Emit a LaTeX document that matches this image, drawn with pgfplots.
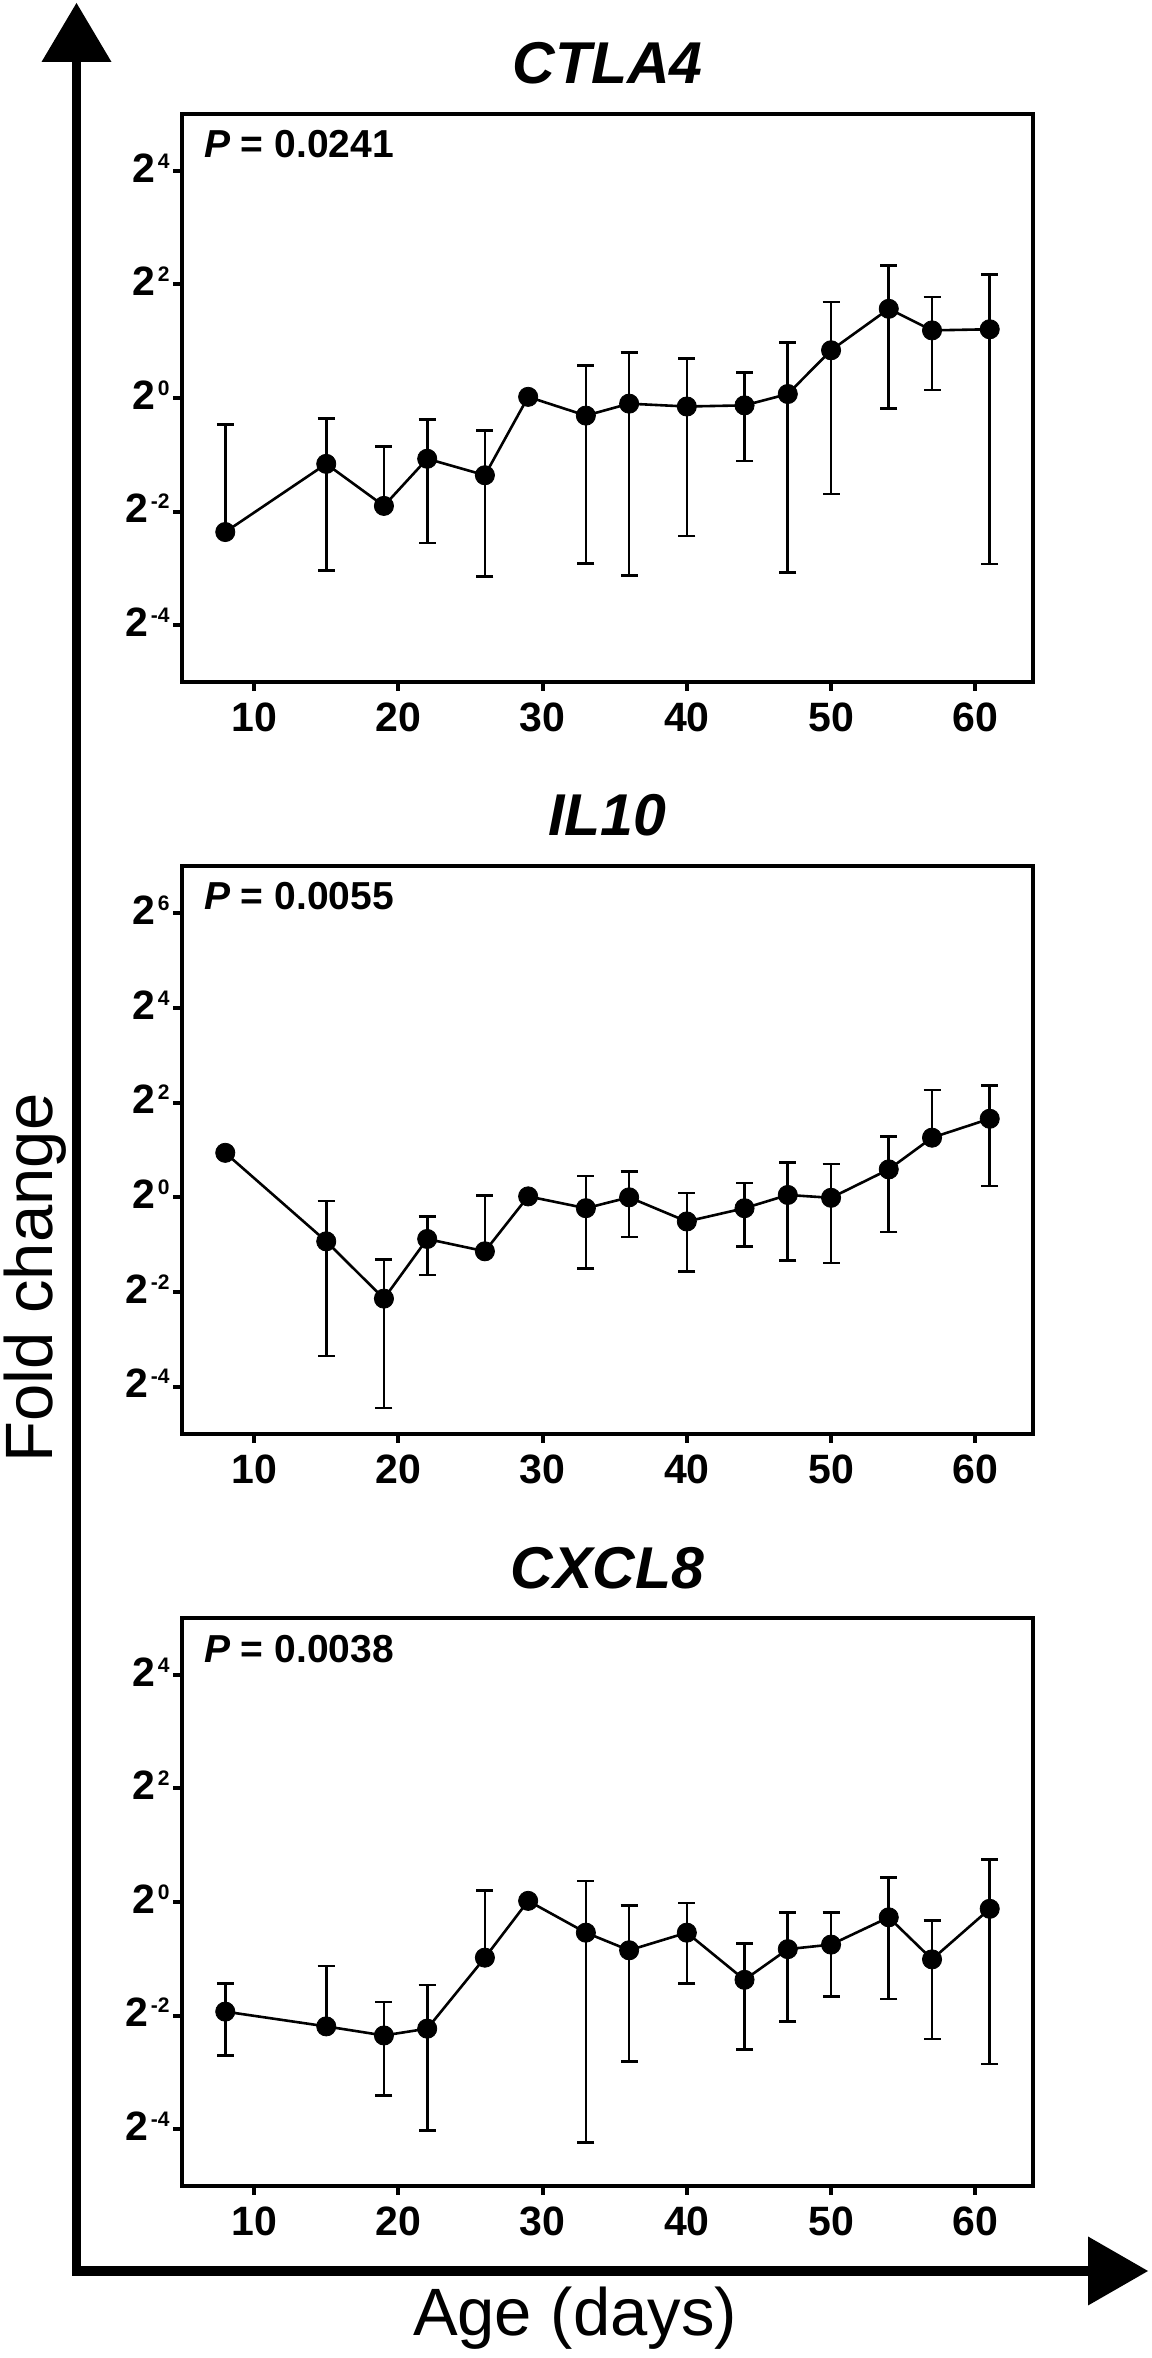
\documentclass[border=0pt]{standalone}
\usepackage{fontspec}
\setmainfont{Liberation Sans}
\usepackage{graphicx}
\usepackage{pgfplots}
\pgfplotsset{compat=1.18}
\usepackage{pgfplotstable}

\newcommand{\ylab}[1]{2\hspace{1.5pt}\raisebox{7pt}{\fontsize{10.5}{10.5}\selectfont #1}}

% x  y  plus  minus   (y in log2 units)
\pgfplotstableread{
x  y      ep    em
8  -2.36  1.89  0
15 -1.16  0.80  1.88
19 -1.90  1.05  0
22 -1.07  0.69  1.48
26 -1.36  0.79  1.78
29  0.02  0     0
33 -0.31  0.88  2.60
36 -0.10  0.90  3.02
40 -0.15  0.85  2.28
44 -0.13  0.58  0.98
47  0.07  0.91  3.14
50  0.84  0.85  2.53
54  1.57  0.76  1.75
57  1.19  0.59  1.05
61  1.21  0.96  4.13
}\ctla

\pgfplotstableread{
x  y      ep    em
8   0.94  0     0
15 -0.93  0.85  2.42
19 -2.14  0.83  2.31
22 -0.88  0.48  0.76
26 -1.14  1.18  0
29  0.02  0     0
33 -0.23  0.68  1.28
36  0.00  0.54  0.84
40 -0.51  0.60  1.06
44 -0.23  0.53  0.81
47  0.05  0.69  1.39
50 -0.01  0.71  1.38
54  0.59  0.69  1.32
57  1.26  1.01  0
61  1.66  0.70  1.42
}\ilten

\pgfplotstableread{
x  y      ep    em
8  -1.93  0.50  0.77
15 -2.19  1.06  0
19 -2.35  0.59  1.06
22 -2.23  0.77  1.79
26 -0.98  1.18  0
29  0.02  0     0
33 -0.54  0.91  3.69
36 -0.85  0.79  1.96
40 -0.54  0.52  0.90
44 -1.37  0.64  1.23
47 -0.83  0.65  1.27
50 -0.75  0.57  0.91
54 -0.27  0.70  1.44
57 -1.01  0.68  1.40
61 -0.12  0.87  2.73
}\cxcl

\pgfplotsset{
  panel/.style={
    scale only axis, width=425.5pt, height=284pt,
    anchor=south west,
    xmin=5, xmax=64, ymin=-5,
    axis line style={line width=2pt},
    tick align=outside,
    major tick length=4.5pt,
    major tick style={black, line width=2pt},
    xtick={10,20,...,60},
    xtick pos=bottom, ytick pos=left,
    /pgf/number format/assume math mode=true,
    tick label style={font=\fontsize{20.5}{21}\selectfont\bfseries},
    xticklabel style={inner sep=0pt, anchor=north},
    xticklabel shift=5.5pt,
    yticklabel style={inner sep=0pt, anchor=east, yshift=1.5pt},
    yticklabel shift=1.5pt,
    clip=false,
  },
  series/.style={black, line width=1.3pt, mark=*, mark size=4.8pt,
    mark options={solid, fill=black, line width=0.4pt},
    error bars/.cd, y dir=both, y explicit,
    error bar style={line width=1.3pt},
    error mark=-,
    error mark options={black, rotate=90, line width=1.3pt, mark size=4.25pt}},
}

\begin{document}
\begin{tikzpicture}
\useasboundingbox (0,0) rectangle (576pt,1179pt);

% CTLA4
\begin{axis}[panel, at={(91pt,838pt)}, ymax=5,
  ytick={-4,-2,0,2,4},
  yticklabels={\ylab{-4},\ylab{-2},\ylab{0},\ylab{2},\ylab{4}}]
\addplot[series] table[x=x, y=y, y error plus=ep, y error minus=em] {\ctla};
\node[anchor=base, font=\fontsize{29.5}{30}\selectfont\bfseries\itshape, yshift=15pt] at (rel axis cs:0.5,1) {CTLA4};
\node[anchor=base west, font=\fontsize{19.5}{20}\selectfont\bfseries, xshift=7.5pt, yshift=-22pt] at (rel axis cs:0,1) {\textit{P} = 0.0241};
\end{axis}

% IL10
\begin{axis}[panel, at={(91pt,462pt)}, ymax=7,
  ytick={-4,-2,0,2,4,6},
  yticklabels={\ylab{-4},\ylab{-2},\ylab{0},\ylab{2},\ylab{4},\ylab{6}}]
\addplot[series] table[x=x, y=y, y error plus=ep, y error minus=em] {\ilten};
\node[anchor=base, font=\fontsize{29.5}{30}\selectfont\bfseries\itshape, yshift=15pt] at (rel axis cs:0.5,1) {IL10};
\node[anchor=base west, font=\fontsize{19.5}{20}\selectfont\bfseries, xshift=7.5pt, yshift=-22pt] at (rel axis cs:0,1) {\textit{P} = 0.0055};
\end{axis}

% CXCL8
\begin{axis}[panel, at={(91pt,86pt)}, ymax=5,
  ytick={-4,-2,0,2,4},
  yticklabels={\ylab{-4},\ylab{-2},\ylab{0},\ylab{2},\ylab{4}}]
\addplot[series] table[x=x, y=y, y error plus=ep, y error minus=em] {\cxcl};
\node[anchor=base, font=\fontsize{29.5}{30}\selectfont\bfseries\itshape, yshift=15pt] at (rel axis cs:0.5,1) {CXCL8};
\node[anchor=base west, font=\fontsize{19.5}{20}\selectfont\bfseries, xshift=7.5pt, yshift=-22pt] at (rel axis cs:0,1) {\textit{P} = 0.0038};
\end{axis}

% big axis arrows
\draw[line width=4.75pt, line join=miter, line cap=butt] (38.25pt,1149pt) -- (38.25pt,43.5pt) -- (545pt,43.5pt);
\fill (38.25pt,1177.5pt) -- (20.75pt,1148pt) -- (55.75pt,1148pt) -- cycle;
\fill (574pt,43.5pt) -- (544pt,60.75pt) -- (544pt,26.25pt) -- cycle;

\node[rotate=90, anchor=base, font=\fontsize{33.5}{34}\selectfont] at (26.5pt,540pt) {Fold change};
\node[anchor=base, font=\fontsize{33.5}{34}\selectfont] at (287.5pt,11pt) {Age (days)};
\end{tikzpicture}
\end{document}
